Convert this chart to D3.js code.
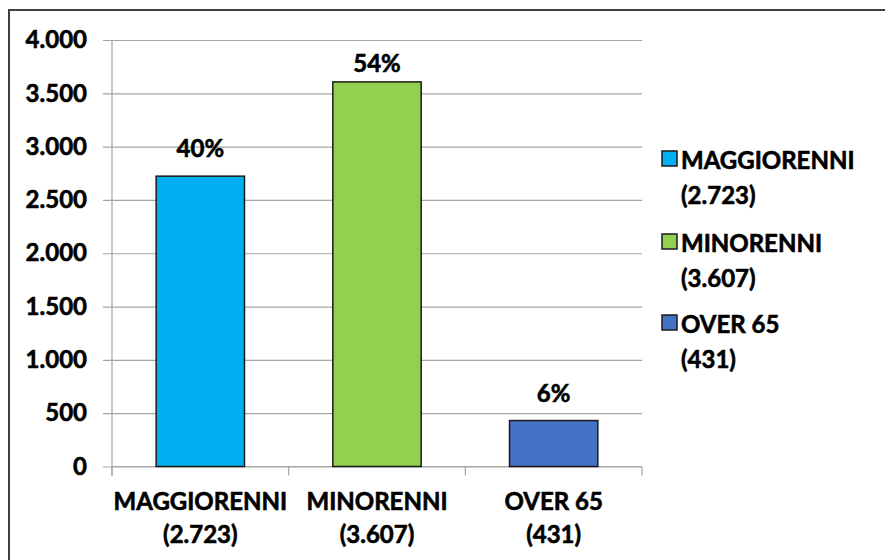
<!DOCTYPE html>
<html>
<head>
<meta charset="utf-8">
<script src="https://cdn.jsdelivr.net/npm/d3@7"></script>
<style>
  html, body { margin: 0; padding: 0; background: #fff; }
  svg text { font-family: Lato, "Open Sans", sans-serif; font-weight: 700; fill: #000; stroke: #000; stroke-width: 0.6px; }
</style>
</head>
<body>
<svg id="chart" width="885" height="560"></svg>
<script>
// Beneficiari per fascia d'età
const categories = ["MAGGIORENNI", "MINORENNI", "OVER 65"];
const values = [2723, 3607, 431];
const percentLabels = ["40%", "54%", "6%"];
const colors = ["#00B0F0", "#92D050", "#4472C4"];
const yTicks = [0, 500, 1000, 1500, 2000, 2500, 3000, 3500, 4000];

const it = d3.formatLocale({ decimal: ",", thousands: ".", grouping: [3], currency: ["€", ""] });
const fmt = it.format(",");

const svg = d3.select("#chart");

// outer frame (runs off the right and bottom edges)
svg.append("rect")
  .attr("x", 9).attr("y", 10)
  .attr("width", 900).attr("height", 600)
  .attr("fill", "#fff")
  .attr("stroke", "#404040").attr("stroke-width", 2);

const plot = { left: 112, right: 642, top: 40, bottom: 466.5 };

const y = d3.scaleLinear().domain([0, 4000]).range([plot.bottom, plot.top]);
const x = d3.scaleBand().domain(categories)
  .range([plot.left, plot.right])
  .paddingInner(0.5).paddingOuter(0.25);

// horizontal gridlines with outward ticks
const yAxis = d3.axisLeft(y)
  .tickValues(yTicks)
  .tickSize(-(plot.right - plot.left))
  .tickSizeOuter(0)
  .tickPadding(0)
  .tickFormat(d => fmt(d));

const gy = svg.append("g").attr("transform", `translate(${plot.left},0)`).call(yAxis);
gy.select(".domain").remove();
gy.selectAll(".tick line")
  .attr("x1", -9)
  .attr("stroke", "#a6a6a6").attr("stroke-width", 1.2);
gy.selectAll(".tick text")
  .attr("x", -25)
  .attr("font-size", 24)
  .attr("font-family", "Lato, sans-serif")
  .attr("font-weight", 700)
  .attr("fill", "#000");

// vertical axis line
svg.append("line")
  .attr("x1", plot.left).attr("x2", plot.left)
  .attr("y1", plot.top).attr("y2", plot.bottom + 9)
  .attr("stroke", "#a6a6a6").attr("stroke-width", 1.2);

// category axis with boundary ticks
const step = x.step();
const boundaries = d3.range(categories.length + 1).map(i => plot.left + i * step);
svg.append("line")
  .attr("x1", plot.left).attr("x2", plot.right)
  .attr("y1", plot.bottom).attr("y2", plot.bottom)
  .attr("stroke", "#a6a6a6").attr("stroke-width", 1.2);
svg.selectAll(".xtick").data(boundaries).join("line")
  .attr("class", "xtick")
  .attr("x1", d => d).attr("x2", d => d)
  .attr("y1", plot.bottom).attr("y2", plot.bottom + 9)
  .attr("stroke", "#a6a6a6").attr("stroke-width", 1.2);

// bars
svg.selectAll(".bar").data(values).join("rect")
  .attr("class", "bar")
  .attr("x", (d, i) => x(categories[i]))
  .attr("y", d => y(d))
  .attr("width", x.bandwidth())
  .attr("height", d => y(0) - y(d))
  .attr("fill", (d, i) => colors[i])
  .attr("stroke", "#1a1a1a").attr("stroke-width", 1.5);

// percentage labels
svg.selectAll(".pct").data(values).join("text")
  .attr("class", "pct")
  .attr("x", (d, i) => x(categories[i]) + x.bandwidth() / 2)
  .attr("y", d => Math.max(y(d) - 19, 72))
  .attr("text-anchor", "middle")
  .attr("font-size", 24)
  .text((d, i) => percentLabels[i]);

// category labels (two lines)
const cat = svg.selectAll(".cat").data(categories).join("text")
  .attr("class", "cat")
  .attr("text-anchor", "middle")
  .attr("font-size", 24);
cat.append("tspan")
  .attr("x", d => x(d) + x.bandwidth() / 2)
  .attr("y", 510)
  .text(d => d);
cat.append("tspan")
  .attr("x", d => x(d) + x.bandwidth() / 2)
  .attr("y", 543)
  .text((d, i) => `(${fmt(values[i])})`);

// legend
const legendTop = [169, 252, 333];
const lg = svg.selectAll(".lg").data(categories).join("g")
  .attr("class", "lg")
  .attr("transform", (d, i) => `translate(662,${legendTop[i]})`);
lg.append("rect")
  .attr("x", 0).attr("y", -18)
  .attr("width", 15).attr("height", 15)
  .attr("fill", (d, i) => colors[i])
  .attr("stroke", "#1a1a1a").attr("stroke-width", 1.5);
const lt = lg.append("text").attr("font-size", 24);
lt.append("tspan").attr("x", 19).attr("y", 0).text(d => d);
lt.append("tspan").attr("x", 19).attr("y", 35).text((d, i) => `(${fmt(values[i])})`);
</script>
</body>
</html>
